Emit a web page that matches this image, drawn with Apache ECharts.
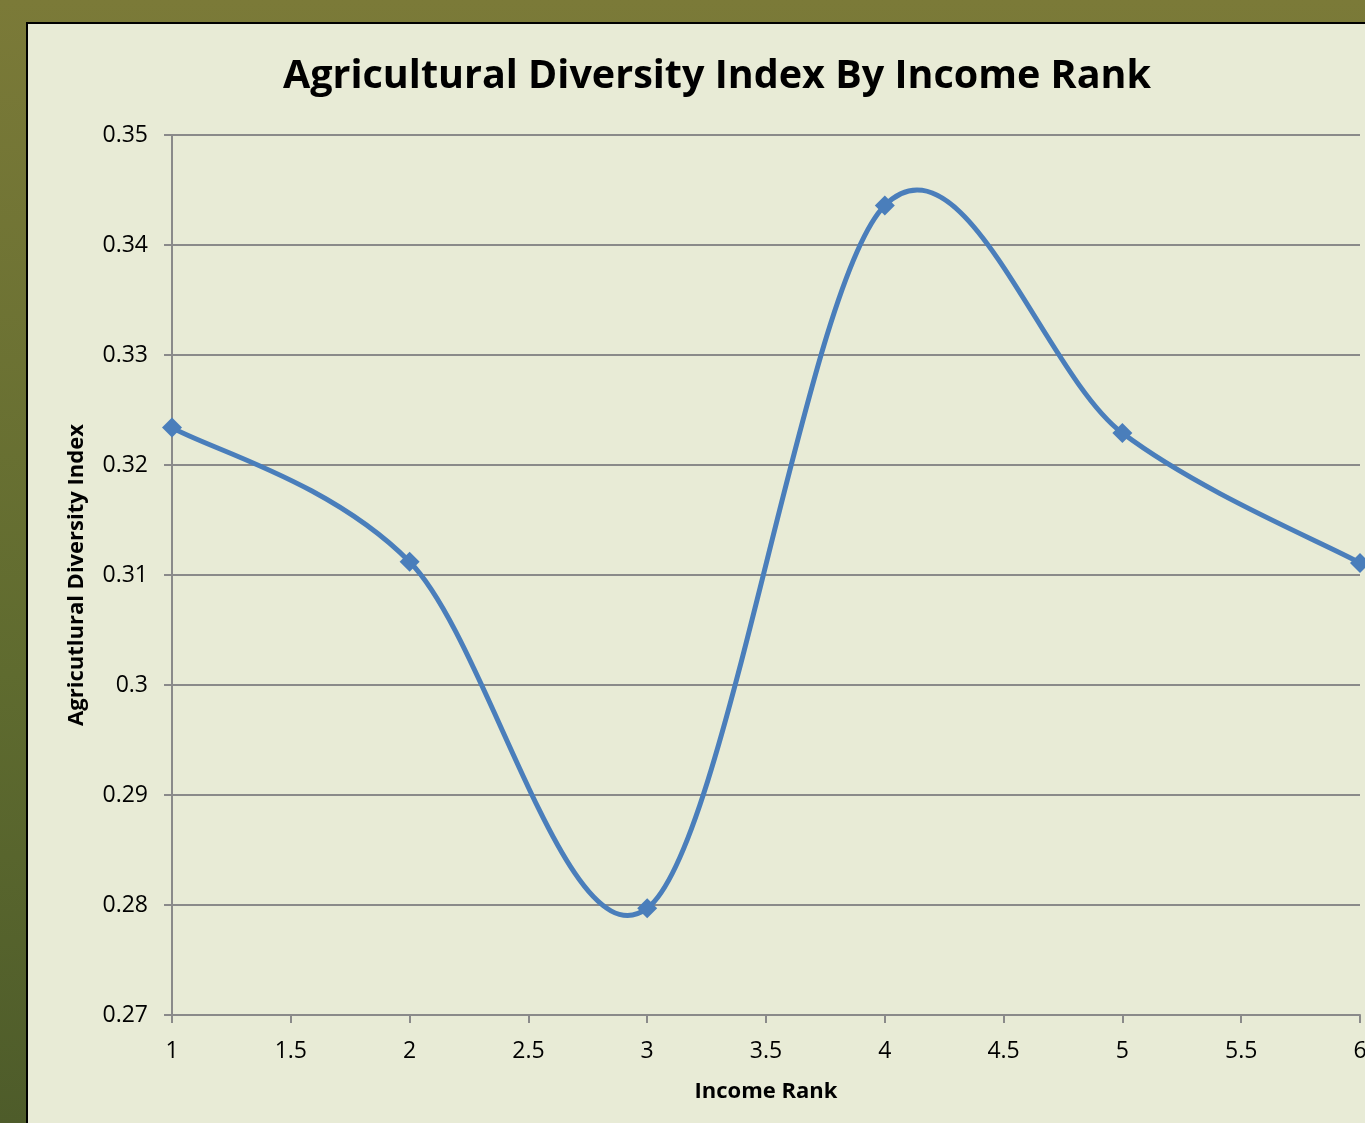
<!DOCTYPE html>
<html>
<head>
<meta charset="utf-8">
<script src="https://cdn.jsdelivr.net/npm/echarts@6/dist/echarts.min.js"></script>
<style>
  html, body { margin: 0; padding: 0; }
  body {
    width: 1365px; height: 1123px; overflow: hidden; position: relative;
    background: linear-gradient(to bottom, #7b7a38 0%, #5f6b2f 60%, #4e5c2a 100%);
  }
  #panel {
    position: absolute; left: 26px; top: 22px; width: 1400px; height: 1200px;
    background: #e8ebd6; border: 2px solid #000; box-sizing: border-box;
  }
  #main { position: absolute; left: 0; top: 0; width: 1365px; height: 1123px; }
</style>
</head>
<body>
<div id="panel"></div>
<div id="main"></div>
<script>
// 收入等级 与 农业多样性指数
const incomeRank = [1, 2, 3, 4, 5, 6]
const diversityIndex = [0.3234, 0.3112, 0.2797, 0.3436, 0.3229, 0.3111]

const myChart = echarts.init(document.getElementById('main'))
const axisGray = '#8a8a8a'
const lineBlue = '#4a7ebb'
const font = '"Open Sans", "Noto Sans", sans-serif'
const points = incomeRank.map((x, i) => [x, diversityIndex[i]])

// Excel 风格的平滑曲线（Catmull-Rom，切线 = (下一点 - 上一点) / 6）
function renderSegment (params, api) {
  const i = params.dataIndex
  if (i >= points.length - 1) return null
  const p = points.map(pt => api.coord(pt))
  const p0 = p[Math.max(i - 1, 0)]
  const p1 = p[i]
  const p2 = p[i + 1]
  const p3 = p[Math.min(i + 2, p.length - 1)]
  return {
    type: 'bezierCurve',
    shape: {
      x1: p1[0], y1: p1[1],
      cpx1: p1[0] + (p2[0] - p0[0]) / 6, cpy1: p1[1] + (p2[1] - p0[1]) / 6,
      cpx2: p2[0] - (p3[0] - p1[0]) / 6, cpy2: p2[1] - (p3[1] - p1[1]) / 6,
      x2: p2[0], y2: p2[1]
    },
    style: { stroke: lineBlue, lineWidth: 5, fill: null, lineCap: 'round' }
  }
}

myChart.setOption({
  backgroundColor: 'transparent',
  textStyle: { fontFamily: font },
  title: {
    text: 'Agricultural Diversity Index By Income Rank',
    left: 712,
    top: 52,
    textAlign: 'center',
    textStyle: { fontSize: 39.5, fontWeight: 'bold', color: '#000', fontFamily: font }
  },
  grid: { left: 172, right: 5, top: 135, bottom: 108, outerBoundsMode: 'none' },
  xAxis: {
    type: 'value',
    min: 1,
    max: 6,
    interval: 0.5,
    name: 'Income Rank',
    nameLocation: 'middle',
    nameGap: 66,
    nameTextStyle: { fontSize: 22, fontWeight: 'bold', color: '#000' },
    axisLine: { lineStyle: { color: axisGray, width: 2 } },
    axisTick: { show: true, length: 8, lineStyle: { color: axisGray, width: 2 } },
    axisLabel: { fontSize: 23, color: '#000', margin: 25 },
    splitLine: { show: false }
  },
  yAxis: {
    type: 'value',
    min: 0.27,
    max: 0.35,
    interval: 0.01,
    name: 'Agricutlural Diversity Index',
    nameLocation: 'middle',
    nameGap: 84,
    nameTextStyle: { fontSize: 22, fontWeight: 'bold', color: '#000' },
    axisLine: { show: true, lineStyle: { color: axisGray, width: 2 } },
    axisTick: { show: true, length: 8, lineStyle: { color: axisGray, width: 2 } },
    axisLabel: {
      fontSize: 23, color: '#000', margin: 24,
      formatter: v => String(parseFloat(v.toFixed(2)))
    },
    splitLine: { show: true, lineStyle: { color: axisGray, width: 2 } }
  },
  series: [{
    type: 'custom',
    data: points,
    renderItem: renderSegment,
    clip: false,
    z: 3
  }, {
    type: 'scatter',
    data: points,
    symbol: 'diamond',
    symbolSize: 20,
    clip: false,
    itemStyle: { color: lineBlue, opacity: 1 },
    z: 4
  }]
})
</script>
</body>
</html>
